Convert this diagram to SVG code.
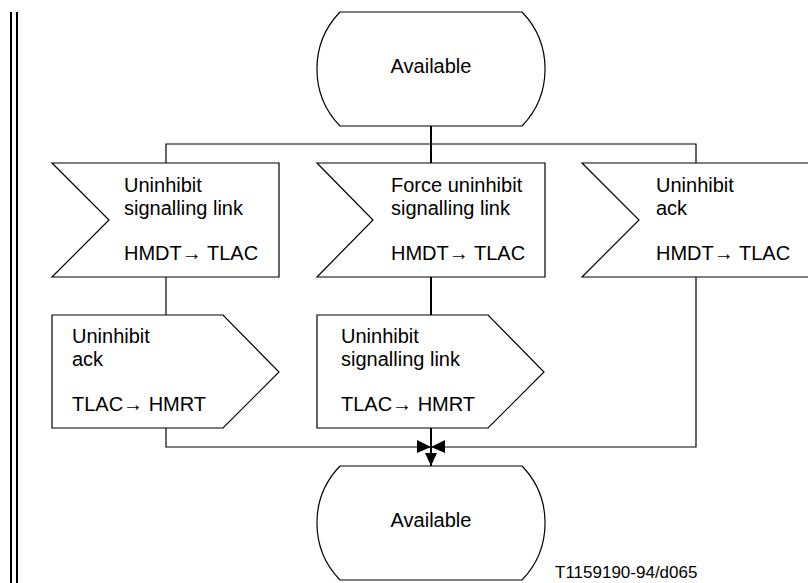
<svg xmlns="http://www.w3.org/2000/svg" width="808" height="583" viewBox="0 0 808 583">
<style>
.s{fill:#fff;stroke:#000;stroke-width:1.2}
.t{font-family:"Liberation Sans",Arial,sans-serif;font-size:20px;fill:#000}
.c{fill:none;stroke:#000;stroke-width:1.2}
.f{font-family:"Liberation Sans",Arial,sans-serif;font-size:17px;fill:#000}
</style>
<rect width="808" height="583" fill="#fff"/>
<g id="border"><line x1="11" y1="12" x2="11" y2="583" stroke="#000" stroke-width="2"/><line x1="17" y1="12" x2="17" y2="583" stroke="#000" stroke-width="2"/></g>
<g id="connectors">
<line class="c" x1="431" y1="126" x2="431" y2="163" style="stroke-width:2"/>
<polyline class="c" points="166,163 166,144 696,144 696,163"/>
<line class="c" x1="166" y1="277" x2="166" y2="315"/>
<line class="c" x1="431" y1="277" x2="431" y2="315" style="stroke-width:2"/>
<polyline class="c" points="166,428 166,447 696,447 696,277"/>
<line class="c" x1="431" y1="428" x2="431" y2="466" style="stroke-width:2"/>
<polygon points="417,440 431,447 417,453" fill="#000"/>
<polygon points="445,440 431,447 445,453" fill="#000"/>
<polygon points="425,453 437,453 431,466" fill="#000"/>
</g>
<g id="state-top"><path class="s" d="M340,12 H522 A82,82 0 0 1 522,126 H340 A82,82 0 0 1 340,12 Z"/><text class="t" x="431" y="73" text-anchor="middle">Available</text></g>
<g id="in-left"><polygon class="s" points="52,163 279,163 279,277 52,277 109,220"/><text class="t" x="124" y="192">Uninhibit</text><text class="t" x="124" y="214.5">signalling link</text><text class="t" x="124" y="259.5">HMDT→ TLAC</text></g>
<g id="in-mid"><polygon class="s" points="317,163 545,163 545,277 317,277 373,220"/><text class="t" x="391" y="192">Force uninhibit</text><text class="t" x="391" y="214.5">signalling link</text><text class="t" x="391" y="259.5">HMDT→ TLAC</text></g>
<g id="in-right"><polygon class="s" points="582,163 809,163 809,277 582,277 639,220"/><text class="t" x="656" y="192">Uninhibit</text><text class="t" x="656" y="214.5">ack</text><text class="t" x="656" y="259.5">HMDT→ TLAC</text></g>
<g id="out-left"><polygon class="s" points="52,315 223,315 279,372 223,428 52,428"/><text class="t" x="72" y="343">Uninhibit</text><text class="t" x="72" y="365.5">ack</text><text class="t" x="72" y="410.5">TLAC→ HMRT</text></g>
<g id="out-mid"><polygon class="s" points="317,315 488,315 544,372 488,428 317,428"/><text class="t" x="341" y="343">Uninhibit</text><text class="t" x="341" y="365.5">signalling link</text><text class="t" x="341" y="410.5">TLAC→ HMRT</text></g>
<g id="state-bottom"><path class="s" d="M340,466 H522 A82,82 0 0 1 522,580 H340 A82,82 0 0 1 340,466 Z"/><text class="t" x="431" y="527" text-anchor="middle">Available</text></g>
<text class="f" x="555" y="578">T1159190-94/d065</text>
</svg>
